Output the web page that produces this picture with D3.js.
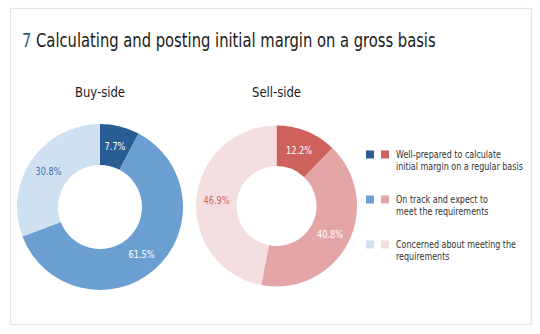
<!DOCTYPE html>
<html><head><meta charset="utf-8">
<script src="https://cdn.jsdelivr.net/npm/d3@7"></script>
<style>
html,body{margin:0;padding:0;background:#fff;}
svg{display:block;}
text{font-family:"DejaVu Sans Condensed","Liberation Sans Narrow","Open Sans",sans-serif;}
</style></head>
<body>
<script>
const titleNumber = "7";
const titleText = "Calculating and posting initial margin on a gross basis";
const categories = ["Well-prepared to calculate initial margin on a regular basis",
                    "On track and expect to meet the requirements",
                    "Concerned about meeting the requirements"];
const legendLines = [["Well-prepared to calculate","initial margin on a regular basis"],
                     ["On track and expect to","meet the requirements"],
                     ["Concerned about meeting the","requirements"]];
const buySideValues = [7.7, 61.5, 30.8];
const sellSideValues = [12.2, 40.8, 46.9];
const buyColors = ["#2a5d93", "#6b9fd1", "#cfe0f1"];
const sellColors = ["#d0625e", "#e4a5a6", "#f4dfe0"];
const buyLabelColors = ["#ffffff", "#ffffff", "#3f72ab"];
const sellLabelColors = ["#ffffff", "#ffffff", "#d0625e"];

const W = 540, H = 334;
const svg = d3.select("body").append("svg").attr("width", W).attr("height", H);

// horizontal squeeze so a sample string at a given size spans a target width
function squeeze(str, target, size) {
  const tmp = svg.append("text").attr("font-size", size).text(str);
  const w = tmp.node().getComputedTextLength();
  tmp.remove();
  return w > 0 ? Math.min(1, target / w) : 1;
}

svg.append("rect").attr("x", 10.5).attr("y", 8.5).attr("width", 521).attr("height", 316)
  .attr("fill", "#fff").attr("stroke", "#dde7eb").attr("stroke-width", 1.2);

const titleSize = 19.5;
const titleSx = squeeze(titleNumber + " " + titleText, 414, titleSize);
const t = svg.append("text").attr("transform", `translate(22,46.5) scale(${titleSx},1)`)
  .attr("font-size", titleSize);
t.append("tspan").attr("fill", "#2b5f8e").text(titleNumber + " ");
t.append("tspan").attr("fill", "#1a1a1a").text(titleText);

const pie = d3.pie().sort(null).value(d => d);
const headSize = 14.5;
const headSx = squeeze("Buy-side", 50, headSize);
const pctSize = 10.5;
const pctSx = squeeze("61.5%", 26, pctSize);

function donut(values, colors, labelColors, cx, cy, rOuter, rInner, title) {
  const g = svg.append("g").attr("transform", `translate(${cx},${cy})`);
  const arc = d3.arc().innerRadius(rInner).outerRadius(rOuter);
  const arcs = pie(values);
  g.selectAll("path").data(arcs).join("path")
    .attr("d", arc).attr("fill", (d, i) => colors[i]);
  g.selectAll("text.lbl").data(arcs).join("text").attr("class", "lbl")
    .attr("transform", d => `translate(${arc.centroid(d)}) scale(${pctSx},1)`)
    .attr("text-anchor", "middle").attr("dy", "0.36em")
    .attr("font-size", pctSize).attr("fill", (d, i) => labelColors[i])
    .text(d => d.data.toFixed(1) + "%");
  svg.append("text").attr("transform", `translate(${cx},97) scale(${headSx},1)`)
    .attr("text-anchor", "middle")
    .attr("font-size", headSize).attr("fill", "#1a1a1a").text(title);
}
donut(buySideValues, buyColors, buyLabelColors, 100, 207, 83, 42, "Buy-side");
donut(sellSideValues, sellColors, sellLabelColors, 276.5, 206, 80.5, 40, "Sell-side");

const legSize = 10.5;
const legSx = squeeze("initial margin on a regular basis", 127, legSize);
const legendY = d3.scalePoint().domain(categories).range([158, 248]);
const lg = svg.append("g");
categories.forEach((c, i) => {
  const y = legendY(c);
  lg.append("rect").attr("x", 366).attr("y", y - 7.5).attr("width", 8).attr("height", 8).attr("fill", buyColors[i]);
  lg.append("rect").attr("x", 381).attr("y", y - 7.5).attr("width", 8).attr("height", 8).attr("fill", sellColors[i]);
  const tx = lg.append("text").attr("transform", `translate(396,${y}) scale(${legSx},1)`)
    .attr("font-size", legSize).attr("fill", "#333");
  legendLines[i].forEach((ln, j) => {
    tx.append("tspan").attr("x", 0).attr("dy", j === 0 ? 0 : 12.5).text(ln);
  });
});
</script>
</body></html>
